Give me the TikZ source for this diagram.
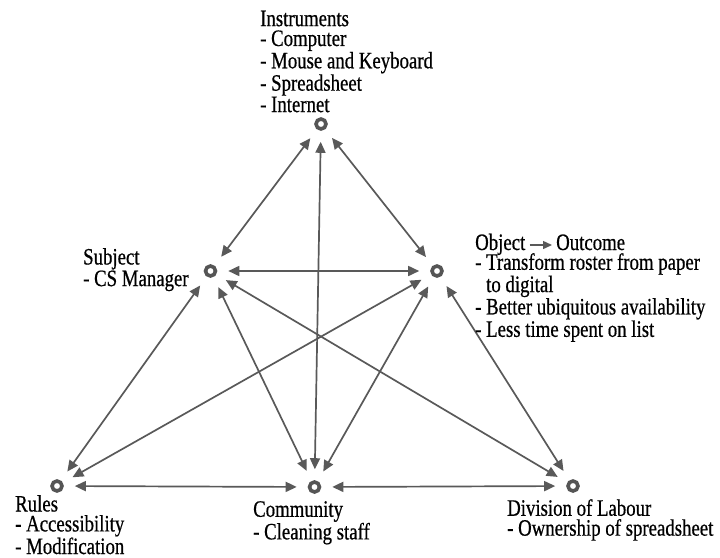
\documentclass[tikz,border=0pt]{standalone}
\usepackage{fontspec}
\setmainfont{Liberation Serif}[FakeStretch=0.8, FakeBold=0.6]
\usetikzlibrary{arrows.meta}
\definecolor{linkgray}{HTML}{595959}
\definecolor{dotgray}{HTML}{555555}
\tikzset{
  hub/.style={circle, draw=dotgray, line width=3.6pt, minimum size=10pt, inner sep=0pt},
  link/.style={draw=linkgray, line width=1.7pt,
    {Triangle[length=11pt,width=10pt]}-{Triangle[length=11pt,width=10pt]},
    shorten <=11pt, shorten >=11pt},
  textarrow/.style={draw=linkgray, line width=1.4pt, -{Triangle[length=9pt,width=8pt]}},
  notes/.style={anchor=north west, inner sep=0pt, align=left,
    font=\fontsize{23.5}{19.9}\selectfont},
  word/.style={anchor=base west, inner sep=0pt, font=\fontsize{23.5}{19.9}\selectfont}
}
\begin{document}
\begin{tikzpicture}[x=1pt,y=-1pt]
\useasboundingbox (0,0) rectangle (720,557);

% activity system hubs
\node[hub] (ins) at (321,124) {};
\node[hub] (sub) at (210.5,271) {};
\node[hub] (obj) at (437,271) {};
\node[hub] (rul) at (57,486) {};
\node[hub] (com) at (314.5,487) {};
\node[hub] (div) at (573,486) {};

% mutual relations
\draw[link] (ins) -- (sub);
\draw[link] (ins) -- (obj);
\draw[link] (ins) -- (com);
\draw[link] (sub) -- (obj);
\draw[link] (sub) -- (rul);
\draw[link] (sub) -- (com);
\draw[link] (sub) -- (div);
\draw[link] (obj) -- (rul);
\draw[link] (obj) -- (com);
\draw[link] (obj) -- (div);
\draw[link] (rul) -- (com);
\draw[link] (com) -- (div);

% descriptions
\node[notes] (instxt) at (260,10.5) {Instruments\\- Computer\\- Mouse and Keyboard\\- Spreadsheet\\- Internet};
\node[notes] (subtxt) at (83,248) {Subject\\- CS Manager};
\node[word] (objword) at (475,250) {Object};
\node[word] (outword) at (556,250) {Outcome};
\draw[textarrow] ([xshift=4pt,yshift=5pt]objword.base east) -- ([xshift=-4pt,yshift=5pt]outword.base west);
\node[notes] (objtxt) at (475,253) {- Transform roster from paper\\\phantom{- }to digital\\- Better ubiquitous availability\\- Less time spent on list};
\node[notes] (rultxt) at (15,495) {Rules\\- Accessibility\\- Modification};
\node[notes] (comtxt) at (253,501) {Community\\- Cleaning staff};
\node[notes] (divtxt) at (507,499) {Division of Labour\\- Ownership of spreadsheet};
\end{tikzpicture}
\end{document}
